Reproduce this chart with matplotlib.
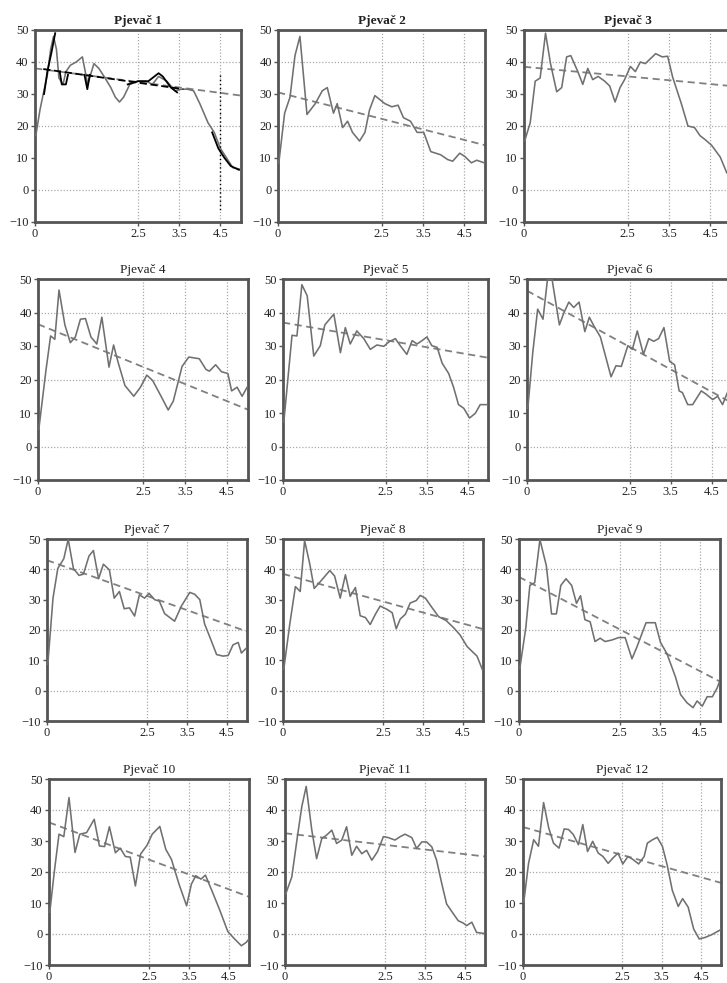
import matplotlib.pyplot as plt

TITLES = [f"Pjevač {i}" for i in range(1, 13)]
X_TICKS = [0, 2.5, 3.5, 4.5]
X_TICK_LABELS = ["0", "2.5", "3.5", "4.5"]
Y_TICKS = [-10, 0, 10, 20, 30, 40, 50]

# measured curves, one pair per singer
s1_x = [0.02, 0.12, 0.2, 0.3, 0.38, 0.45, 0.52, 0.58, 0.68, 0.75, 0.86, 1.0, 1.15, 1.28, 1.43, 1.55,
        1.7, 1.84, 1.95, 2.05, 2.15, 2.3, 2.5, 2.7, 2.85, 3.0, 3.2, 3.4, 3.55, 3.7, 3.85, 4.0, 4.2,
        4.35, 4.5, 4.65, 4.8, 4.98]
s1_y = [17, 25, 30, 36, 44, 48, 44, 35, 33, 37, 39, 40, 41.6, 33, 39.5, 38, 35, 32, 29, 27.5, 29, 33,
        34, 34, 33, 35.5, 34, 31, 31.5, 31.5, 31, 27, 21, 18, 13, 10, 7, 6.5]

s2_x = [0.02, 0.16, 0.29, 0.41, 0.53, 0.7, 0.9, 1.07, 1.19, 1.34, 1.43, 1.56, 1.68, 1.8, 1.97, 2.1,
        2.21, 2.34, 2.58, 2.75, 2.9, 3.03, 3.2, 3.36, 3.52, 3.69, 3.81, 3.93, 4.1, 4.22, 4.39, 4.51,
        4.67, 4.8, 4.98]
s2_y = [8.5, 24, 29, 42, 48, 23.6, 27, 31, 32, 24, 27, 19.5, 21.5, 18, 15.3, 18, 25, 29.5, 27, 26,
        26.5, 22.6, 21.5, 18, 18, 12, 11.5, 11, 9.5, 9, 11.5, 10.5, 8.5, 9.3, 8.5]

s3_x = [0.02, 0.15, 0.27, 0.39, 0.52, 0.64, 0.79, 0.91, 1.03, 1.13, 1.3, 1.42, 1.54, 1.66, 1.79, 1.95,
        2.07, 2.2, 2.32, 2.43, 2.57, 2.69, 2.81, 2.93, 3.18, 3.34, 3.47, 3.59, 3.8, 3.96, 4.12, 4.25,
        4.37, 4.53, 4.74, 4.9, 5.0]
s3_y = [15.5, 21, 34, 35, 49, 39.5, 30.7, 32, 41.6, 42, 37, 33, 38, 34.5, 35.5, 34, 32.5, 27.5, 32,
        34.5, 38.6, 37, 40, 39.5, 42.6, 41.6, 41.8, 35.3, 27, 20, 19.5, 17, 15.8, 14, 10.3, 5.3, 5.1]

s4_x = [0.02, 0.19, 0.3, 0.4, 0.5, 0.64, 0.77, 0.89, 1.01, 1.13, 1.26, 1.4, 1.52, 1.69, 1.8, 1.91,
        2.07, 2.28, 2.44, 2.59, 2.73, 2.93, 3.1, 3.22, 3.43, 3.59, 3.84, 4.0, 4.08, 4.23, 4.37, 4.52,
        4.61, 4.74, 4.86, 4.98]
s4_y = [5.2, 22.8, 33, 32, 46.7, 36.3, 31, 32.7, 38, 38.2, 32.7, 30.6, 38.6, 23.7, 30.3, 25, 18.2, 15,
        17.7, 21.3, 19.7, 15, 10.9, 13.5, 23.9, 26.7, 26.2, 23, 22.5, 24.4, 22.3, 21.8, 16.6, 17.7,
        15, 17.7]

s5_x = [0.02, 0.22, 0.34, 0.46, 0.59, 0.75, 0.91, 1.02, 1.24, 1.4, 1.52, 1.64, 1.8, 1.97, 2.13, 2.29,
        2.46, 2.58, 2.74, 2.86, 3.02, 3.15, 3.27, 3.39, 3.51, 3.63, 3.76, 3.88, 4.04, 4.16, 4.28,
        4.41, 4.55, 4.69, 4.81, 4.98]
s5_y = [7.3, 33.2, 33, 48.3, 45, 27, 30.1, 36.3, 39.5, 28, 35.5, 30.6, 34.5, 32.2, 29, 30.3, 29.9,
        31.2, 32.2, 30.1, 27.5, 31.6, 30.6, 31.6, 32.7, 30.1, 29.6, 24.9, 21.8, 17.7, 12.5, 11.4, 8.5,
        9.9, 12.5, 12.5]

s6_x = [0.02, 0.14, 0.26, 0.39, 0.5, 0.61, 0.79, 0.9, 1.02, 1.14, 1.27, 1.41, 1.52, 1.64, 1.79, 2.05,
        2.17, 2.3, 2.46, 2.57, 2.69, 2.84, 2.97, 3.09, 3.21, 3.34, 3.48, 3.6, 3.71, 3.79, 3.92, 4.04,
        4.25, 4.37, 4.53, 4.65, 4.77, 4.94, 5.0]
s6_y = [11.4, 28, 41, 38, 50, 50, 36.3, 39.9, 43.1, 41.5, 43.1, 34.3, 38.6, 35.8, 32.7, 20.8, 24.1,
        23.9, 30.1, 29, 34.5, 27.5, 32.2, 31.4, 32.2, 35.5, 25.4, 24.4, 16.6, 16.1, 12.5, 12.5, 16.6,
        15.6, 14, 15, 12.5, 17.7, 16]

s7_x = [0.02, 0.15, 0.27, 0.42, 0.53, 0.66, 0.8, 0.91, 1.05, 1.16, 1.29, 1.41, 1.56, 1.68, 1.81, 1.93,
        2.06, 2.19, 2.31, 2.44, 2.55, 2.69, 2.81, 2.94, 3.07, 3.19, 3.36, 3.57, 3.69, 3.82, 3.94,
        4.07, 4.24, 4.4, 4.53, 4.65, 4.78, 4.86, 4.98]
s7_y = [8.7, 30.5, 40.3, 43.5, 49.9, 40.3, 38, 38.4, 44.4, 46.2, 36.9, 41.7, 39.8, 30.5, 32.7, 27,
        27.3, 24.6, 31.6, 30.5, 32.1, 30, 29.5, 25.4, 24.1, 22.9, 27.9, 32.4, 31.8, 30, 22, 17.7,
        11.9, 11.4, 11.6, 15.1, 15.9, 12.4, 14]

s8_x = [0.02, 0.17, 0.31, 0.43, 0.54, 0.67, 0.78, 0.93, 1.17, 1.29, 1.43, 1.56, 1.68, 1.81, 1.93, 2.06,
        2.18, 2.31, 2.43, 2.6, 2.73, 2.83, 2.93, 3.06, 3.18, 3.33, 3.43, 3.56, 3.73, 3.89, 4.08, 4.27,
        4.43, 4.6, 4.77, 4.85, 4.98]
s8_y = [7.1, 22, 34.3, 32.7, 49.5, 41.7, 33.7, 35.9, 39.6, 37.8, 30.5, 38.2, 31.1, 34, 24.7, 24.1,
        21.8, 25.2, 27.9, 26.8, 25.7, 20.4, 23.6, 25.2, 28.9, 29.7, 31.4, 30.5, 27.3, 24.4, 23.1,
        20.7, 18.3, 14.6, 12.4, 11.4, 7.1]

s9_x = [0.02, 0.17, 0.27, 0.39, 0.52, 0.68, 0.81, 0.93, 1.04, 1.17, 1.31, 1.43, 1.53, 1.64, 1.77, 1.89,
        2.02, 2.14, 2.31, 2.48, 2.64, 2.81, 2.93, 3.16, 3.39, 3.52, 3.68, 3.89, 4.02, 4.18, 4.33,
        4.43, 4.56, 4.68, 4.81, 4.93, 4.98]
s9_y = [7.3, 20.8, 34.7, 35.6, 49.8, 41.2, 25.3, 25.3, 34.7, 36.9, 34.7, 28.8, 31.3, 23.4, 22.7, 16.2,
        17.3, 16.2, 16.7, 17.5, 17.5, 10.5, 14.3, 22.4, 22.4, 15.9, 12.2, 4.6, -1.3, -4, -5.6, -3.4,
        -5.1, -2, -2, 0.9, 2.7]

s10_x = [0.02, 0.13, 0.25, 0.37, 0.5, 0.65, 0.77, 0.94, 1.13, 1.26, 1.39, 1.51, 1.66, 1.78, 1.91,
         2.03, 2.16, 2.29, 2.45, 2.58, 2.77, 2.92, 3.06, 3.25, 3.44, 3.56, 3.67, 3.8, 3.91, 4.09,
         4.26, 4.47, 4.64, 4.81, 4.93, 5.0]
s10_y = [7, 19.8, 32.2, 31.4, 44, 26.3, 32.2, 32.7, 37, 28.4, 28.2, 34.6, 26.2, 27.7, 25, 24.8, 15.5,
         25.8, 28.6, 32.2, 34.7, 27.3, 24.1, 16.1, 9.1, 16.1, 18.8, 17.7, 19, 13.4, 8, 0.8, -1.6,
         -3.8, -2.7, -1.6]

s11_x = [0.02, 0.17, 0.31, 0.42, 0.53, 0.67, 0.79, 0.92, 1.04, 1.17, 1.29, 1.42, 1.54, 1.67, 1.79,
         1.92, 2.04, 2.17, 2.31, 2.46, 2.58, 2.75, 2.88, 3.0, 3.17, 3.29, 3.42, 3.54, 3.67, 3.79,
         3.92, 4.04, 4.21, 4.33, 4.46, 4.54, 4.67, 4.79, 4.96]
s11_y = [13, 18.4, 31.4, 41.1, 47.6, 33.5, 24.3, 30.8, 31.9, 33.5, 29.2, 30.3, 34.6, 25.4, 28.3, 25.9,
         27, 23.8, 26.5, 31.4, 31.1, 30.3, 31.4, 32.2, 31.1, 27.6, 29.7, 29.7, 28.1, 23.8, 16.2, 9.7,
         6.5, 4.3, 3.5, 2.7, 3.8, 0.5, 0.2]

s12_x = [0.02, 0.14, 0.27, 0.39, 0.52, 0.65, 0.77, 0.91, 1.04, 1.15, 1.27, 1.4, 1.51, 1.63, 1.76, 1.9,
         2.02, 2.15, 2.27, 2.4, 2.52, 2.65, 2.77, 2.92, 3.06, 3.14, 3.27, 3.39, 3.52, 3.64, 3.77,
         3.92, 4.03, 4.17, 4.31, 4.45, 4.6, 4.77, 4.98]
s12_y = [10.3, 22.8, 30.4, 28.3, 42.4, 34.2, 29.3, 27.7, 33.9, 33.7, 32.1, 28.8, 35.3, 26.6, 29.9,
         26.1, 25, 22.8, 24.5, 26.1, 22.6, 25, 24.1, 22.6, 25, 29.3, 30.4, 31.2, 28.3, 22.3, 14.1,
         8.9, 11.4, 8.7, 1.6, -1.6, -1.1, -0.2, 1.3]

SERIES_X = [s1_x, s2_x, s3_x, s4_x, s5_x, s6_x, s7_x, s8_x, s9_x, s10_x, s11_x, s12_x]
SERIES_Y = [s1_y, s2_y, s3_y, s4_y, s5_y, s6_y, s7_y, s8_y, s9_y, s10_y, s11_y, s12_y]

# linear trend: value at x=0 and at x=5
TREND_START = [38, 30.5, 38.5, 36.5, 37, 46.5, 43, 38.5, 37.5, 36, 32.5, 34.5]
TREND_END = [29.5, 14, 32.5, 11, 26.5, 13, 19.5, 20.3, 3, 12, 25, 16.5]

# pen marks drawn over the first panel of the scan
pen_solid = [
    ([0.22, 0.3, 0.4, 0.49], [30, 37, 43, 49]),
    ([0.6, 0.65, 0.75, 0.8], [37, 33, 33, 36]),
    ([1.2, 1.27, 1.33], [36, 31.5, 36]),
    ([2.25, 2.5, 2.75, 2.9, 3.0, 3.1, 3.3, 3.45], [33, 34, 34, 35.5, 36.5, 35.5, 32, 30.5]),
    ([4.3, 4.45, 4.6, 4.75, 4.95], [18, 13, 10, 7.5, 6.3]),
]
pen_dash_x = [0.2, 3.6]
pen_dash_y = [37.8, 31.5]
pen_vert_x = [4.5, 4.5]
pen_vert_y = [36, -7]

# axes boxes in pixels: left, top, width, height
BOXES = [
    (35, 30, 206, 192), (278, 30, 207, 192), (524, 30, 207, 192),
    (38, 279, 210, 201), (283, 279, 205, 201), (527, 279, 205, 201),
    (47, 539, 200, 182), (283, 539, 200, 182), (519, 539, 201, 182),
    (49, 779, 200, 186), (285, 779, 200, 186), (523, 779, 198, 186),
]

W, H = 727, 983
plt.rcParams["font.family"] = ["Liberation Serif", "DejaVu Serif"]

fig = plt.figure(figsize=(W / 100, H / 100), dpi=100)
fig.patch.set_facecolor("white")

for i, (l, t, w, h) in enumerate(BOXES):
    ax = fig.add_axes([l / W, 1 - (t + h) / H, w / W, h / H])
    ax.set_xlim(0, 5.0)
    ax.set_ylim(-10, 50)
    for gx in [2.5, 3.5, 4.5]:
        ax.axvline(gx, color="#aaaaaa", linestyle=(0, (1, 1.5)), linewidth=0.9, zorder=0)
    for gy in [0, 20, 40]:
        ax.axhline(gy, color="#aaaaaa", linestyle=(0, (1, 1.5)), linewidth=0.9, zorder=0)
    ax.plot([0, 5.0], [TREND_START[i], TREND_END[i]], color="#808080", linestyle=(0, (4, 2.5)),
            linewidth=1.3, zorder=2)
    ax.plot(SERIES_X[i], SERIES_Y[i], color="#707070", linewidth=1.15, zorder=3)
    if i == 0:
        for px, py in pen_solid:
            ax.plot(px, py, color="black", linewidth=1.3, zorder=4)
        ax.plot(pen_dash_x, pen_dash_y, color="black", linewidth=1.3, linestyle=(0, (4, 2)), zorder=4)
        ax.plot(pen_vert_x, pen_vert_y, color="black", linewidth=1.0, linestyle=(0, (1, 2)), zorder=4)
    ax.set_xticks(X_TICKS)
    ax.set_xticklabels(X_TICK_LABELS)
    ax.set_yticks(Y_TICKS)
    ax.tick_params(direction="out", length=3, width=1, color="#555555", labelsize=9,
                   labelcolor="#222222", pad=1.5)
    for s in ax.spines.values():
        s.set_linewidth(2)
        s.set_color("#555555")
    ax.set_title(TITLES[i], fontsize=9.5, pad=4, fontweight="bold" if i < 3 else "normal",
                 color="#222222")

fig.savefig("out.png", dpi=100, facecolor="white")
